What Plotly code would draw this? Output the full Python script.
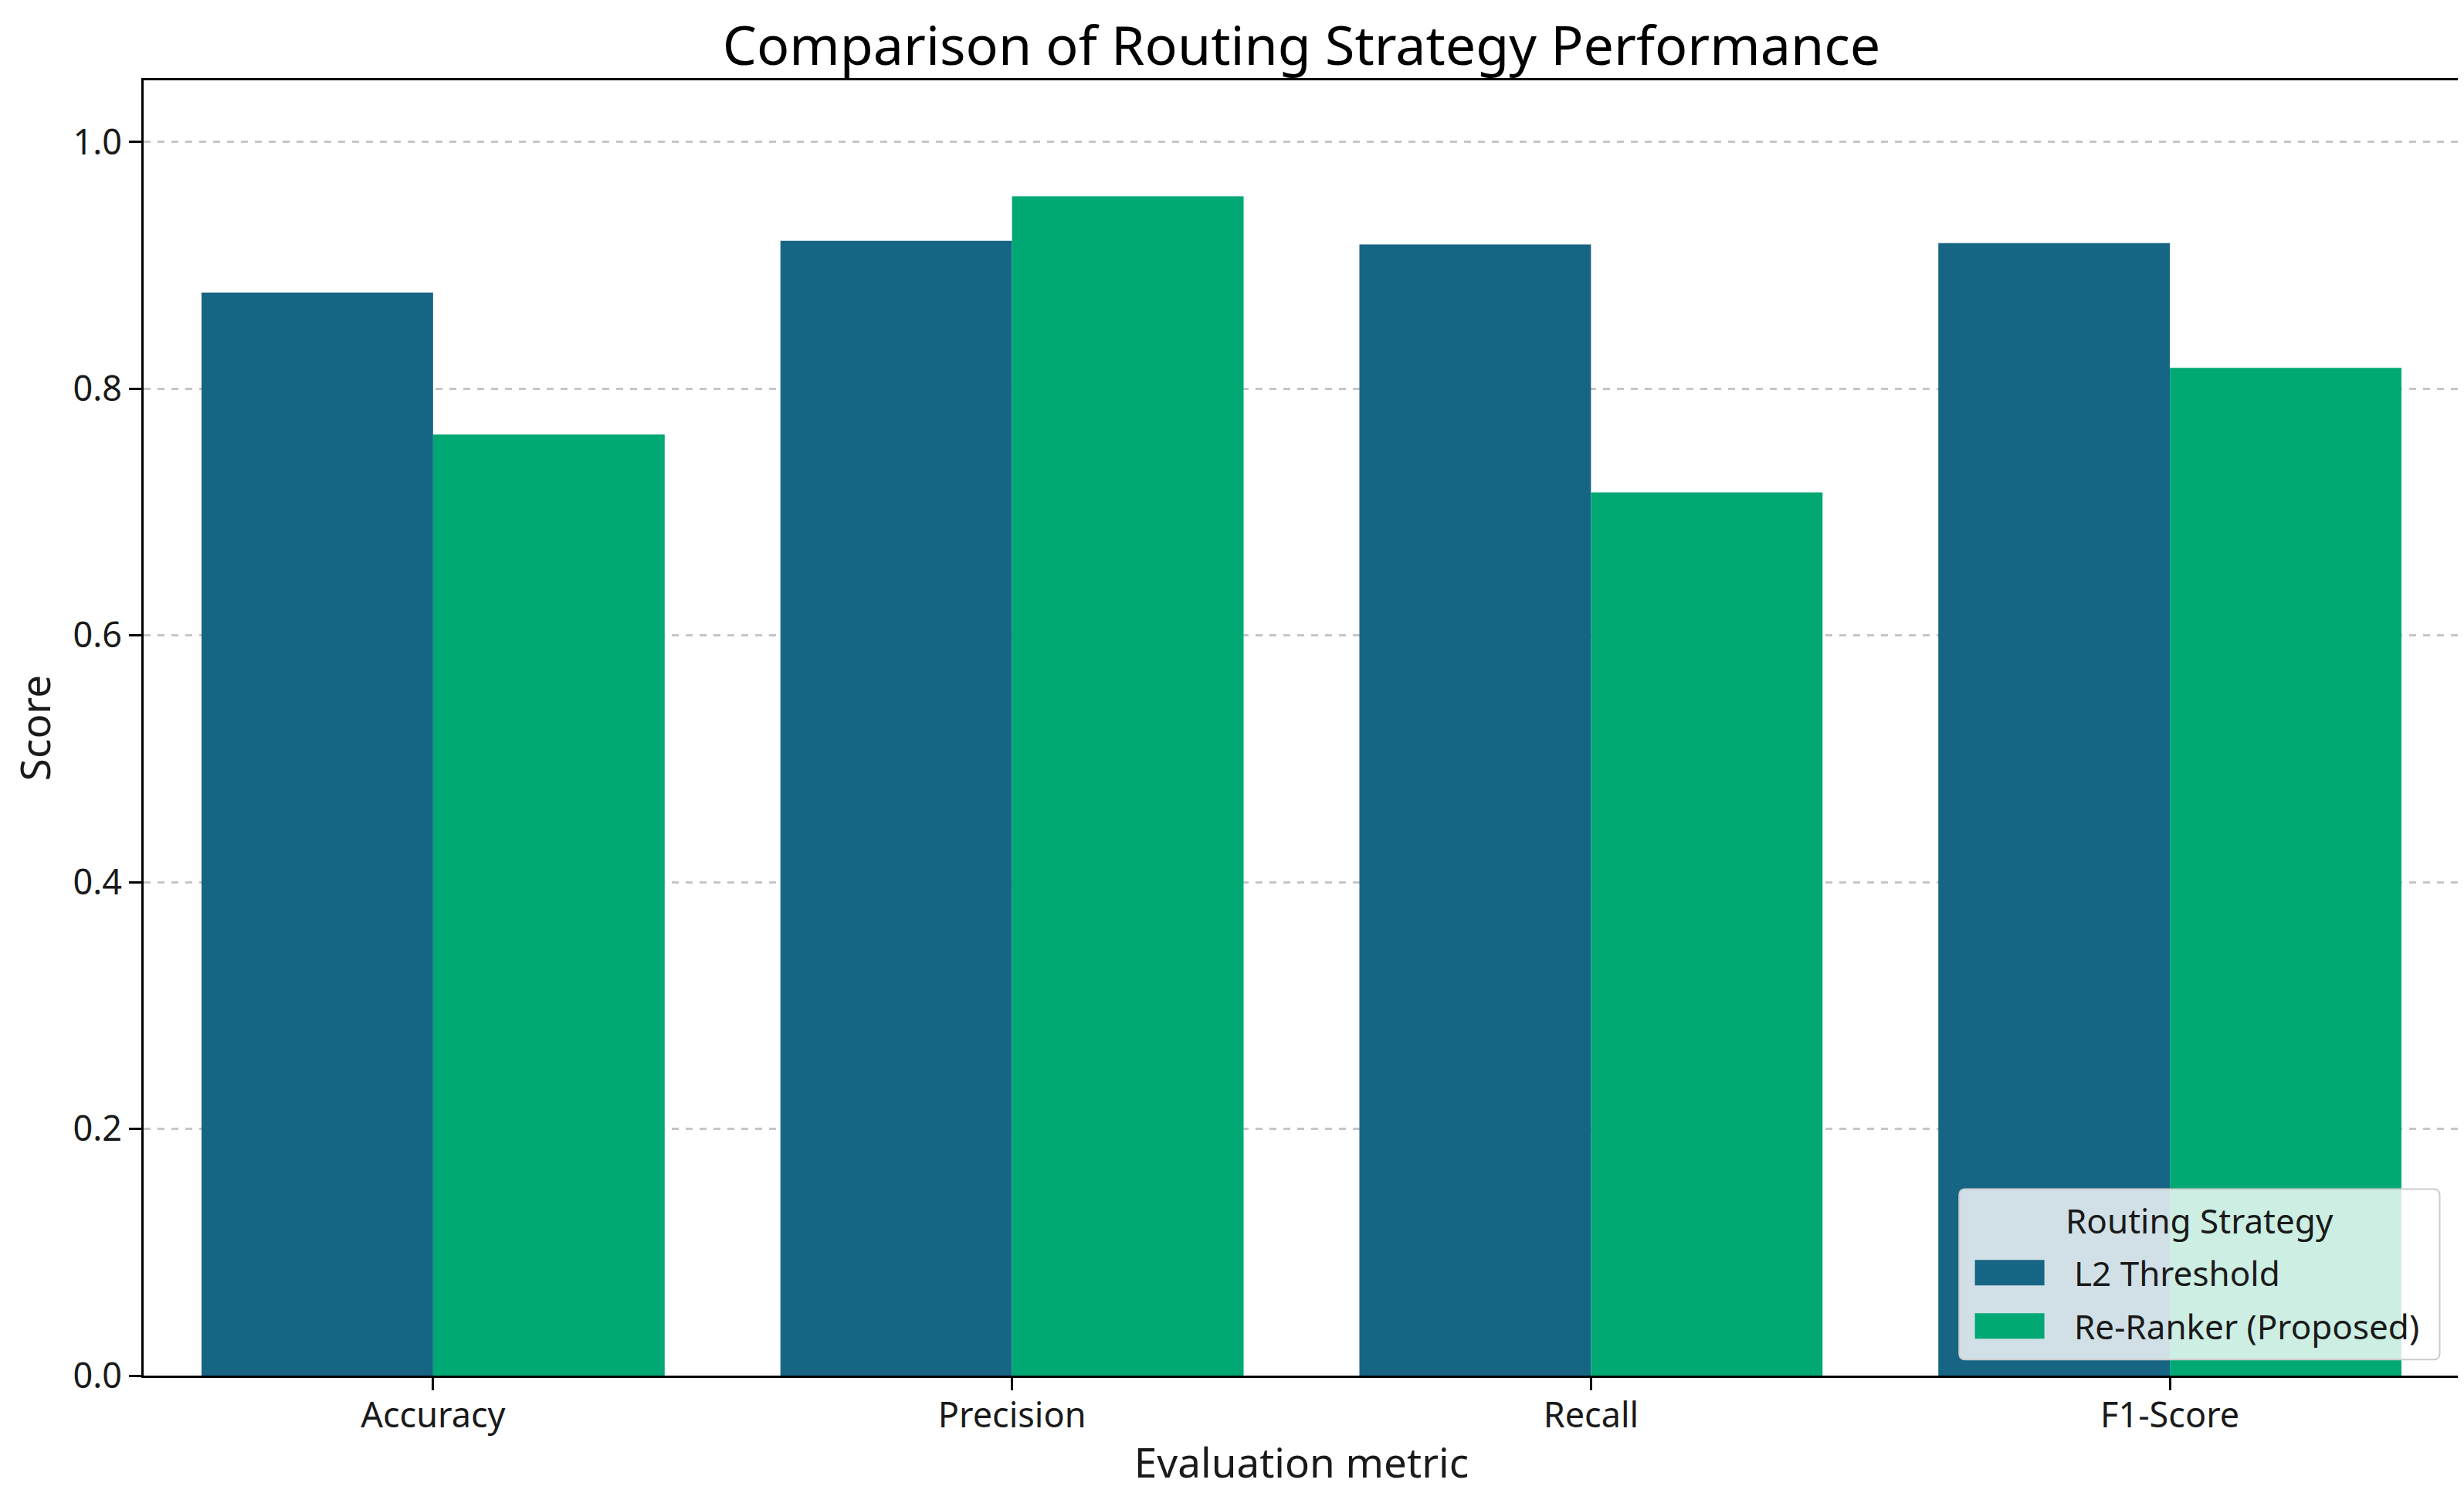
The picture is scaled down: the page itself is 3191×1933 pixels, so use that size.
import plotly.graph_objects as go

categories = ["Accuracy", "Precision", "Recall", "F1-Score"]
series_names = ["L2 Threshold", "Re-Ranker (Proposed)"]
l2_threshold = [0.878, 0.920, 0.917, 0.918]
re_ranker = [0.763, 0.956, 0.716, 0.817]
y_ticks = [0.0, 0.2, 0.4, 0.6, 0.8, 1.0]
y_tick_labels = ["0.0", "0.2", "0.4", "0.6", "0.8", "1.0"]
colors = ["#176584", "#00a874"]

FONT = "Noto Sans"

fig = go.Figure()
fig.add_trace(go.Bar(x=categories, y=l2_threshold, name=series_names[0],
                     marker=dict(color=colors[0], line=dict(width=0)), showlegend=False))
fig.add_trace(go.Bar(x=categories, y=re_ranker, name=series_names[1],
                     marker=dict(color=colors[1], line=dict(width=0)), showlegend=False))

# ---- manual legend (paper coordinates) ----
dy = 0.004
bx0, bx1, by0, by1 = 0.784, 0.9915, 0.0083 + dy, 0.140 + dy
rx, ry = 0.0027, 0.0048
box_path = (f"M {bx0+rx},{by0} L {bx1-rx},{by0} Q {bx1},{by0} {bx1},{by0+ry} "
            f"L {bx1},{by1-ry} Q {bx1},{by1} {bx1-rx},{by1} "
            f"L {bx0+rx},{by1} Q {bx0},{by1} {bx0},{by1-ry} "
            f"L {bx0},{by0+ry} Q {bx0},{by0} {bx0+rx},{by0} Z")
shapes = [dict(type="path", xref="paper", yref="paper", path=box_path,
               fillcolor="rgba(255,255,255,0.8)", line=dict(color="#cccccc", width=2),
               layer="above")]
annotations = [dict(text="Routing Strategy", xref="paper", yref="paper",
                    x=0.8877, y=0.1157 + dy, xanchor="center", yanchor="middle",
                    showarrow=False, font=dict(size=44, family=FONT, color="#1a1a1a"))]
item_y = [(0.0656 + dy, 0.0853 + dy), (0.0244 + dy, 0.0441 + dy)]
for name, col, (y0, y1) in zip(series_names, colors, item_y):
    shapes.append(dict(type="rect", xref="paper", yref="paper",
                       x0=0.7908, x1=0.8208, y0=y0, y1=y1,
                       fillcolor=col, line=dict(width=0), layer="above"))
    annotations.append(dict(text=name, xref="paper", yref="paper",
                            x=0.8331, y=(y0 + y1) / 2, xanchor="left", yanchor="middle",
                            showarrow=False, font=dict(size=44, family=FONT, color="#1a1a1a")))

fig.update_layout(
    width=3191, height=1933,
    margin=dict(l=178, r=14, t=96, b=160),
    paper_bgcolor="white", plot_bgcolor="white",
    font=dict(family=FONT, color="#1a1a1a", size=45),
    barmode="group", bargap=0.2, bargroupgap=0,
    title=dict(text="Comparison of Routing Strategy Performance",
               x=0.5, xref="paper", xanchor="center",
               y=1 - 51 / 1933, yanchor="middle",
               font=dict(size=70, family=FONT, color="black")),
    showlegend=False,
    shapes=shapes,
    annotations=annotations,
)

fig.update_xaxes(
    range=[-0.5, 3.5], automargin=False,
    title=dict(text="Evaluation metric", font=dict(size=53), standoff=16),
    showline=True, linecolor="black", linewidth=3, mirror=True,
    ticks="outside", ticklen=16, tickwidth=3, tickcolor="black",
    tickfont=dict(size=45), showgrid=False, ticklabelstandoff=-6,
)
fig.update_yaxes(
    range=[0, 1.05], automargin=False,
    title=dict(text="Score", font=dict(size=53), standoff=58),
    tickvals=y_ticks, ticktext=y_tick_labels,
    showline=True, linecolor="black", linewidth=3, mirror=True,
    ticks="outside", ticklen=16, tickwidth=3, tickcolor="black",
    tickfont=dict(size=45),
    showgrid=True, gridcolor="rgba(160,160,160,0.6)", gridwidth=3, griddash="dash",
    zeroline=False,
)

fig.write_html("out.html")
